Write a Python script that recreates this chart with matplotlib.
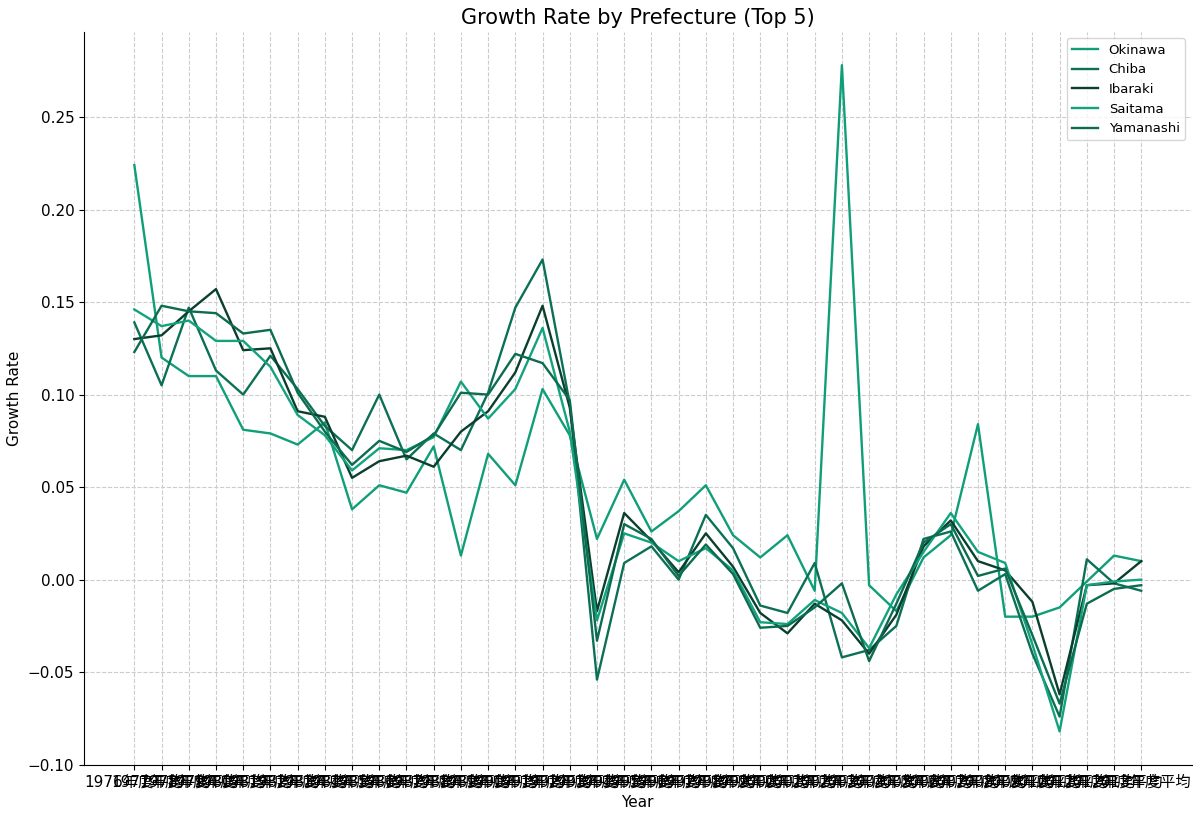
"""Growth rate by prefecture, top 5"""
import matplotlib
matplotlib.use('Agg')
import matplotlib.pyplot as plt

plt.rcParams['font.family'] = ['DejaVu Sans', 'Noto Sans CJK JP']

years = list(range(1976, 2014))
year_labels = [f"{y}年度平均" for y in years]

okinawa = [0.224, 0.120, 0.110, 0.110, 0.081, 0.079, 0.073, 0.085, 0.038, 0.051,
           0.047, 0.072, 0.013, 0.068, 0.051, 0.103, 0.078, 0.022, 0.054, 0.026,
           0.037, 0.051, 0.024, 0.012, 0.024, -0.006, 0.278, -0.003, -0.017, 0.012,
           0.024, 0.084, -0.020, -0.020, -0.015, -0.001, 0.013, 0.010]
chiba = [0.139, 0.105, 0.147, 0.113, 0.100, 0.121, 0.103, 0.083, 0.070, 0.100,
         0.065, 0.079, 0.070, 0.101, 0.147, 0.173, 0.095, -0.054, 0.009, 0.018,
         0.000, 0.035, 0.017, -0.014, -0.018, 0.009, -0.042, -0.038, -0.025, 0.022,
         0.026, -0.006, 0.003, -0.040, -0.074, 0.011, -0.002, -0.006]
ibaraki = [0.130, 0.132, 0.145, 0.157, 0.124, 0.125, 0.091, 0.088, 0.055, 0.064,
           0.067, 0.061, 0.080, 0.091, 0.112, 0.148, 0.093, -0.017, 0.036, 0.021,
           0.004, 0.025, 0.007, -0.018, -0.029, -0.013, -0.022, -0.040, -0.019, 0.018,
           0.032, 0.010, 0.005, -0.012, -0.062, -0.003, -0.002, 0.010]
saitama = [0.146, 0.137, 0.140, 0.129, 0.129, 0.115, 0.089, 0.078, 0.059, 0.071,
           0.070, 0.077, 0.107, 0.087, 0.103, 0.136, 0.080, -0.022, 0.025, 0.020,
           0.010, 0.017, 0.005, -0.023, -0.024, -0.011, -0.018, -0.037, -0.008, 0.015,
           0.036, 0.015, 0.009, -0.035, -0.082, -0.003, -0.001, 0.000]
yamanashi = [0.123, 0.148, 0.145, 0.144, 0.133, 0.135, 0.101, 0.080, 0.062, 0.075,
             0.069, 0.078, 0.101, 0.100, 0.122, 0.117, 0.097, -0.033, 0.030, 0.022,
             0.002, 0.019, 0.003, -0.026, -0.025, -0.015, -0.002, -0.044, -0.013, 0.020,
             0.030, 0.002, 0.006, -0.030, -0.067, -0.013, -0.005, -0.003]

names = ['Okinawa', 'Chiba', 'Ibaraki', 'Saitama', 'Yamanashi']
series = [okinawa, chiba, ibaraki, saitama, yamanashi]
colors = ['#0f9e78', '#0b7056', '#0a3f2e', '#12a27d', '#0c6c50']

fig, ax = plt.subplots(figsize=(12, 8.17), dpi=100)
for name, vals, col in zip(names, series, colors):
    ax.plot(year_labels, vals, color=col, linewidth=1.7, label=name)

ax.set_title("Growth Rate by Prefecture (Top 5)", fontsize=15)
ax.set_xlabel("Year", fontsize=11)
ax.set_ylabel("Growth Rate", fontsize=11)
ax.tick_params(labelsize=11)
ax.grid(True, linestyle='--', color='#cccccc', linewidth=0.8)
ax.spines['top'].set_visible(False)
ax.spines['right'].set_visible(False)
ax.legend(loc='upper right', fontsize=9.5)

fig.subplots_adjust(left=0.07, right=0.993, bottom=0.064, top=0.961)
fig.savefig('out.png')
